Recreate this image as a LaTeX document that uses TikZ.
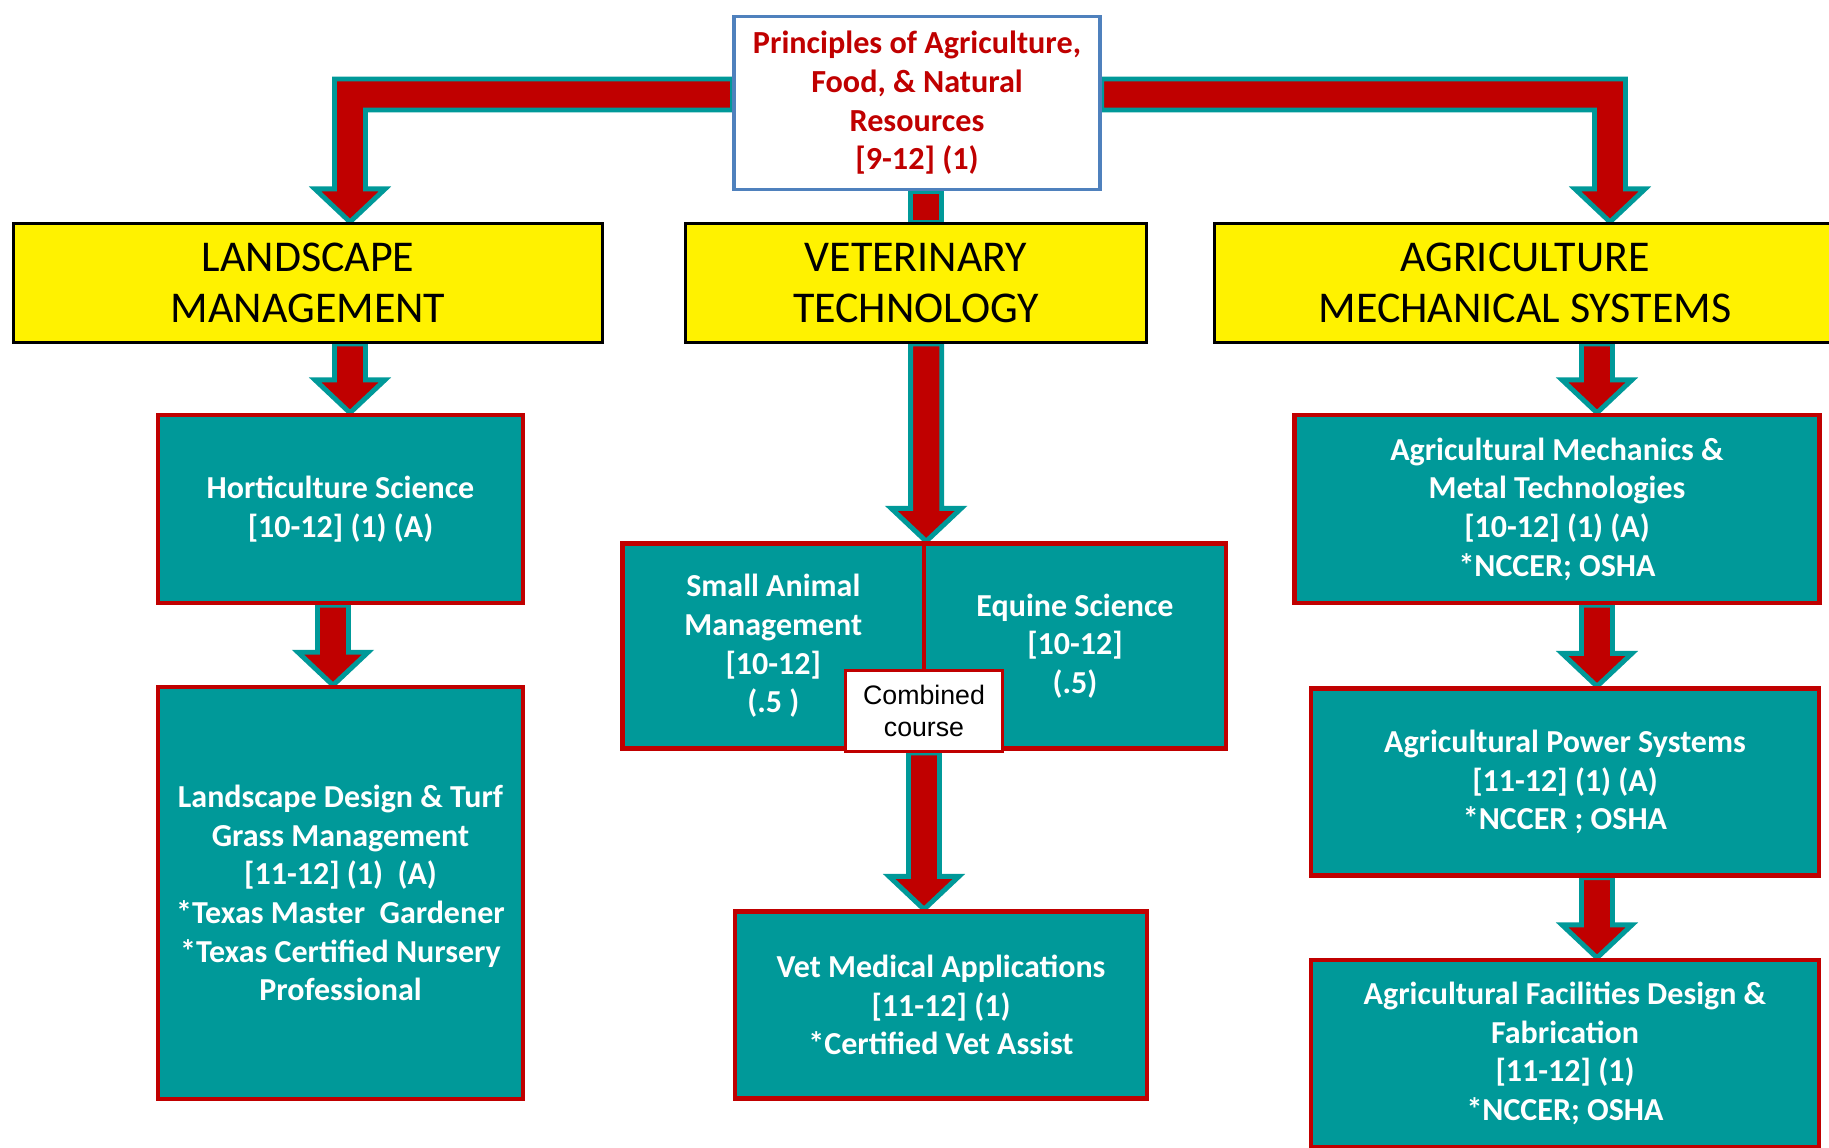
\documentclass[tikz,border=0pt]{standalone}
\usepackage{fontspec}
\setmainfont{Carlito}
\newfontfamily\arialfont{Liberation Sans}
\usetikzlibrary{calc,backgrounds}
\definecolor{darkred}{HTML}{C00000}
\definecolor{tealbox}{HTML}{009999}
\definecolor{steelblue}{HTML}{4F81BD}
\def\shaftw{0.155cm}
\def\headw{0.35cm}
\def\headl{0.33cm}
% block arrow straight down, from the y of #1 to the tip #2
\newcommand\blockdown[2]{\filldraw[blockarrow] let \p1=(#1), \p2=(#2) in
  (\x2-\shaftw,\y1) -- (\x2-\shaftw,\y2+\headl) -- (\x2-\headw,\y2+\headl) -- (\x2,\y2)
  -- (\x2+\headw,\y2+\headl) -- (\x2+\shaftw,\y2+\headl) -- (\x2+\shaftw,\y1) -- cycle;}

\begin{document}
\begin{tikzpicture}[x=0.01cm,y=-0.01cm,
  blockarrow/.style={fill=darkred,draw=tealbox,line width=1.4pt,line join=miter},
  topbox/.style={draw=steelblue,line width=1.1pt,fill=white,text=darkred,align=center,inner sep=0pt,
    font=\fontsize{9.15}{11}\selectfont\bfseries},
  headbox/.style={draw=black,line width=0.85pt,fill=yellow,align=center,inner sep=0pt,
    minimum height=1.19cm,font=\fontsize{12.5}{14.6}\selectfont},
  course/.style={draw=darkred,line width=1.2pt,fill=tealbox,text=white,align=center,inner sep=0pt,
    font=\fontsize{9.1}{11}\selectfont\bfseries},
  notebox/.style={draw=darkred,line width=0.85pt,fill=white,align=center,inner sep=0pt,
    font=\arialfont\fontsize{7.6}{9.3}\selectfont}]
  \useasboundingbox (0,0) rectangle (1829,1148);

  %%% top course
  \node[topbox,minimum width=3.65cm,minimum height=1.73cm] (prin) at (917,103)
    {Principles of Agriculture,\\Food, \& Natural\\Resources\\{}[9-12] (1)};

  %%% pathways
  \node[headbox,minimum width=5.88cm] (land) at (308,283) {LANDSCAPE\\MANAGEMENT};
  \node[headbox,minimum width=4.60cm] (vet) at (916,283) {VETERINARY\\TECHNOLOGY};
  \node[headbox,minimum width=6.21cm] (agri) at (1525,283) {AGRICULTURE\\MECHANICAL SYSTEMS};

  %%% landscape
  \node[course,minimum width=3.65cm,minimum height=1.88cm] (hort) at (340.5,509)
    {Horticulture Science\\{}[10-12] (1) (A)};
  \node[course,minimum width=3.65cm,minimum height=4.11cm] (lawn) at (340.5,893)
    {Landscape Design \& Turf\\Grass Management\\{}[11-12] (1)~ (A)\\*Texas Master~ Gardener\\*Texas Certified Nursery\\Professional};

  %%% veterinary
  \node[course,minimum width=3.014cm,minimum height=2.05cm] (sam) at (773.3,646)
    {Small Animal\\Management\\{}[10-12]\\(.5 )};
  \node[course,minimum width=3.02cm,minimum height=2.05cm] (equi) at (1075,646)
    {Equine Science\\{}[10-12]\\(.5)};
  \node[notebox,minimum width=1.57cm,minimum height=0.81cm] (comb) at (924,711) {Combined\\course};
  \node[course,minimum width=4.12cm,minimum height=1.87cm] (vetmed) at (941,1005)
    {Vet Medical Applications\\{}[11-12] (1)\\*Certified Vet Assist};

  %%% mechanical
  \node[course,minimum width=5.245cm,minimum height=1.88cm] (mech) at (1557,509)
    {Agricultural Mechanics \&\\Metal Technologies\\{}[10-12] (1) (A)\\*NCCER; OSHA};
  \node[course,minimum width=5.08cm,minimum height=1.87cm] (power) at (1565,782)
    {Agricultural Power Systems\\{}[11-12] (1) (A)\\*NCCER ; OSHA};
  \node[course,minimum width=5.08cm,minimum height=1.87cm] (facil) at (1565,1053.5)
    {Agricultural Facilities Design \&\\Fabrication\\{}[11-12] (1)\\*NCCER; OSHA};
  \coordinate (acol) at (1597,0);

  \begin{pgfonlayer}{background}
    % elbow arrows out of the top course
    \filldraw[blockarrow] let \p1=($(prin.west)+(0,-8.5)$), \p2=($(land.north)+(42,0)$) in
      (\x1,\y1+\shaftw) -- (\x2-\shaftw,\y1+\shaftw) -- (\x2-\shaftw,\y2+\headl) -- (\x2-\headw,\y2+\headl)
      -- (\x2,\y2) -- (\x2+\headw,\y2+\headl) -- (\x2+\shaftw,\y2+\headl) -- (\x2+\shaftw,\y1-\shaftw)
      -- (\x1,\y1-\shaftw) -- cycle;
    \filldraw[blockarrow] let \p1=($(prin.east)+(0,-8.5)$), \p2=($(agri.north)+(85,0)$) in
      (\x1,\y1+\shaftw) -- (\x2+\shaftw,\y1+\shaftw) -- (\x2+\shaftw,\y2+\headl) -- (\x2+\headw,\y2+\headl)
      -- (\x2,\y2) -- (\x2-\headw,\y2+\headl) -- (\x2-\shaftw,\y2+\headl) -- (\x2-\shaftw,\y1-\shaftw)
      -- (\x1,\y1-\shaftw) -- cycle;
    \filldraw[blockarrow] let \p1=(prin.south), \p2=(vet.north -| sam.north east) in
      (\x2-\shaftw,\y1) rectangle (\x2+\shaftw,\y2);

    \blockdown{land.south}{$(hort.north)+(9.5,0)$}
    \blockdown{hort.south}{$(lawn.north)+(-7.5,0)$}
    \blockdown{vet.south}{sam.north east}
    \blockdown{comb.south}{vetmed.north -| comb}
    \blockdown{agri.south}{mech.north -| acol}
    \blockdown{mech.south}{power.north -| acol}
    \blockdown{power.south}{facil.north -| acol}
  \end{pgfonlayer}
\end{tikzpicture}
\end{document}
